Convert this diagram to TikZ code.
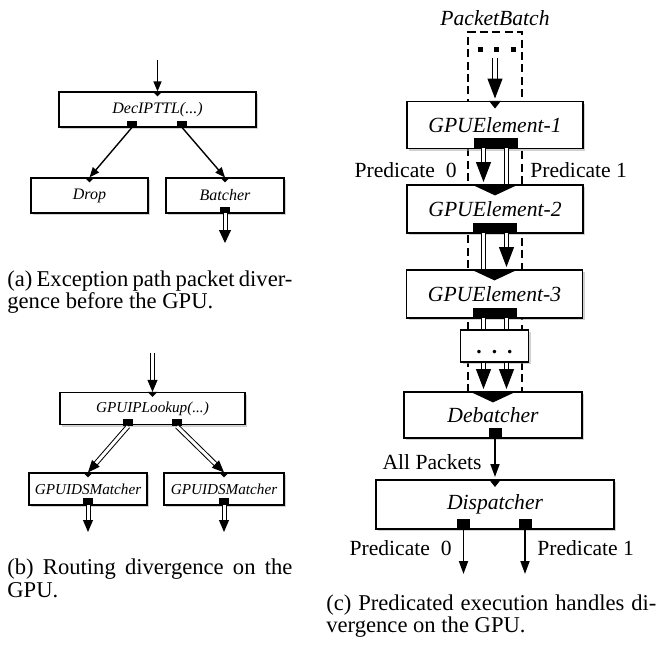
\documentclass[tikz,border=0pt]{standalone}
\usepackage{fontspec}
\setmainfont{Liberation Serif}
\usetikzlibrary{arrows.meta,shadows}

\tikzset{
  box/.style={draw, fill=white, line width=.6pt, inner sep=0pt,
    drop shadow={shadow xshift=1pt, shadow yshift=-1.1pt, fill=black!35, opacity=.5}},
  boxa/.style={box, minimum height=17.5pt, font=\fontsize{8}{9}\selectfont\itshape},
  boxb/.style={box, minimum height=16pt, font=\fontsize{7.6}{9}\selectfont\itshape},
  boxc/.style={box, minimum height=23.5pt, font=\fontsize{10.8}{13}\selectfont\itshape},
  port/.style={fill=black, inner sep=0pt, minimum width=5pt, minimum height=3pt},
  wideport/.style={port, minimum width=22pt, minimum height=5pt},
  sqport/.style={port, minimum width=6.5pt, minimum height=5pt},
  arr/.style={line width=.7pt, -{Triangle[length=5pt,width=4pt]}},
  arrc/.style={line width=.9pt, -{Triangle[length=6.5pt,width=4.5pt]}, shorten >=1.2pt},
  dbl/.style={double, line width=.5pt, double distance=1.5pt},
  dblarr/.style={dbl, -{Triangle[length=6pt,width=5pt]}},
  dblc/.style={double, line width=.6pt, double distance=1.7pt},
  dblcarr/.style={dblc, -{Triangle[length=10pt,width=7.5pt]}, shorten >=1.2pt},
  lbl/.style={font=\fontsize{10.8}{13}\selectfont, inner sep=0pt},
  captext/.style={anchor=base west, inner sep=0pt, font=\fontsize{11.3}{13}\selectfont},
}

\begin{document}
\begin{tikzpicture}[x=.5pt,y=-.5pt]
\useasboundingbox (0,0) rectangle (660,645);

% (a) exception path
\node[boxa, minimum width=98.5pt] (dec) at (157.5,109.5) {DecIPTTL(...)};
\node[boxa, minimum width=58.5pt] (drop) at (89.5,195.5) {Drop};
\node[boxa, minimum width=59pt] (batch) at (225,195.5) {Batcher};
\node[port] (decA) at (132,124) {};
\node[port] (decB) at (182,124) {};
\node[port] (batchP) at (225,210) {};
\coordinate (ain) at (157.5,60);
\coordinate (aout) at (225,243);
\draw[arr] (ain) -- (dec.north);
\draw[arr] (decA.south) -- (drop.north);
\draw[arr] (decB.south) -- (batch.north);
\draw[dbl, -{Triangle[length=6.5pt,width=6pt]}] (batchP.south) -- (aout);
\node[captext] (capa1) at (7,286) {\makebox[142.5pt][s]{(a) Exception path packet diver-}};
\node[captext] (capa2) at (7,308) {gence before the GPU.};

% (b) routing
\node[boxb, minimum width=92.5pt] (look) at (152.5,408.5) {GPUIPLookup(...)};
\node[boxb, minimum width=59pt] (m1) at (88,489) {GPUIDSMatcher};
\node[boxb, minimum width=60pt] (m2) at (224,489) {GPUIDSMatcher};
\node[port, minimum height=3.5pt] (lookA) at (128,422.5) {};
\node[port, minimum height=3.5pt] (lookB) at (177,422.5) {};
\node[port, minimum height=3.5pt] (m1p) at (88,501.5) {};
\node[port, minimum height=3.5pt] (m2p) at (224,501.5) {};
\coordinate (bin) at (152.5,353);
\coordinate (bout1) at (88,532);
\coordinate (bout2) at (224,532);
\draw[dblarr] (bin) -- (look.north);
\draw[dblarr] (lookA.south) -- (m1.north);
\draw[dblarr] (lookB.south) -- (m2.north);
\draw[dblarr] (m1p.south) -- (bout1);
\draw[dblarr] (m2p.south) -- (bout2);
\node[captext] (capb1) at (7,574) {\makebox[142.5pt][s]{(b) Routing divergence on the}};
\node[captext] (capb2) at (7,597) {GPU.};

% (c) predicated execution
\coordinate (L) at (483.5,0);
\coordinate (R) at (506.5,0);
\node[lbl, font=\fontsize{10.8}{13}\selectfont\itshape] (pb) at (495,18) {PacketBatch};
\draw[line width=.7pt, dash pattern=on 4pt off 2.2pt] (468,392) -- (468,32) -- (522,32) -- (522,392);
\draw[line width=2.5pt, dash pattern=on 2.5pt off 5.75pt] (477.5,49) -- (516,49);
\node[boxc, minimum width=88pt] (e1) at (495,125) {GPUElement-1};
\node[boxc, minimum width=88pt, minimum height=24pt] (e2) at (495,209) {GPUElement-2};
\node[boxc, minimum width=88pt, minimum height=24pt] (e3) at (494.5,294) {GPUElement-3};
\node[box, minimum width=34pt, minimum height=16pt, text height=7pt, text depth=0pt,
  font=\fontsize{10.8}{13}\selectfont\bfseries] (dots) at (494.5,346) {.\hspace{5pt}.\hspace{5pt}.};
\node[boxc, minimum width=89pt, minimum height=23pt] (deb) at (493,415) {Debatcher};
\node[boxc, minimum width=119pt, minimum height=24.5pt] (disp) at (495,504.5) {Dispatcher};
\node[wideport] (e1p) at (495.5,143) {};
\node[wideport] (e2p) at (495,228) {};
\node[wideport] (e3p) at (495,313) {};
\node[sqport] (debp) at (495,433) {};
\node[sqport] (dispA) at (463.5,524) {};
\node[sqport] (dispB) at (525,524) {};
\coordinate (pbin) at (495,58);
\coordinate (cout0) at (463.5,574);
\coordinate (cout1) at (525,574);
\draw[dblcarr] (pbin) -- (e1.north);
\draw[dblcarr] (e1p.south -| L) -- (e2.north -| L);
\draw[dblc] (e1p.south -| R) -- (e2.north -| R);
\draw[dblc] (e2p.south -| L) -- (e3.north -| L);
\draw[dblcarr] (e2p.south -| R) -- (e3.north -| R);
\draw[dblc] (e3p.south -| L) -- (dots.north -| L);
\draw[dblc] (e3p.south -| R) -- (dots.north -| R);
\draw[dblcarr] (dots.south -| L) -- (deb.north -| L);
\draw[dblcarr] (dots.south -| R) -- (deb.north -| R);
\draw[arrc] (debp.south) -- (disp.north);
\draw[arrc, shorten >=0pt] (dispA.south) -- (cout0);
\draw[arrc, shorten >=0pt] (dispB.south) -- (cout1);
\node[lbl, anchor=east] (p0a) at (457,170) {Predicate~ 0};
\node[lbl, anchor=west] (p1a) at (530,170) {Predicate 1};
\node[lbl, anchor=east] (allp) at (482,462) {All Packets};
\node[lbl, anchor=east] (p0b) at (452,548) {Predicate~ 0};
\node[lbl, anchor=west] (p1b) at (537,548) {Predicate 1};
\node[captext] (capc1) at (326,610) {\makebox[165pt][s]{(c) Predicated execution handles di-}};
\node[captext] (capc2) at (326,632) {vergence on the GPU.};

% input markers
\foreach \n in {dec,drop,batch,look,m1,m2}
  \fill ([xshift=-2.5pt]\n.north) -- ([xshift=2.5pt]\n.north) -- ([yshift=-2.5pt]\n.north) -- cycle;
\foreach \n in {e1,disp}
  \fill ([xshift=-3pt]\n.north) -- ([xshift=3pt]\n.north) -- ([yshift=-3.8pt]\n.north) -- cycle;
\foreach \n in {e2,e3,deb}
  \fill ([xshift=-11.75pt]\n.north) -- ([xshift=11.75pt]\n.north) -- ([yshift=-5.5pt]\n.north) -- cycle;
\end{tikzpicture}
\end{document}
